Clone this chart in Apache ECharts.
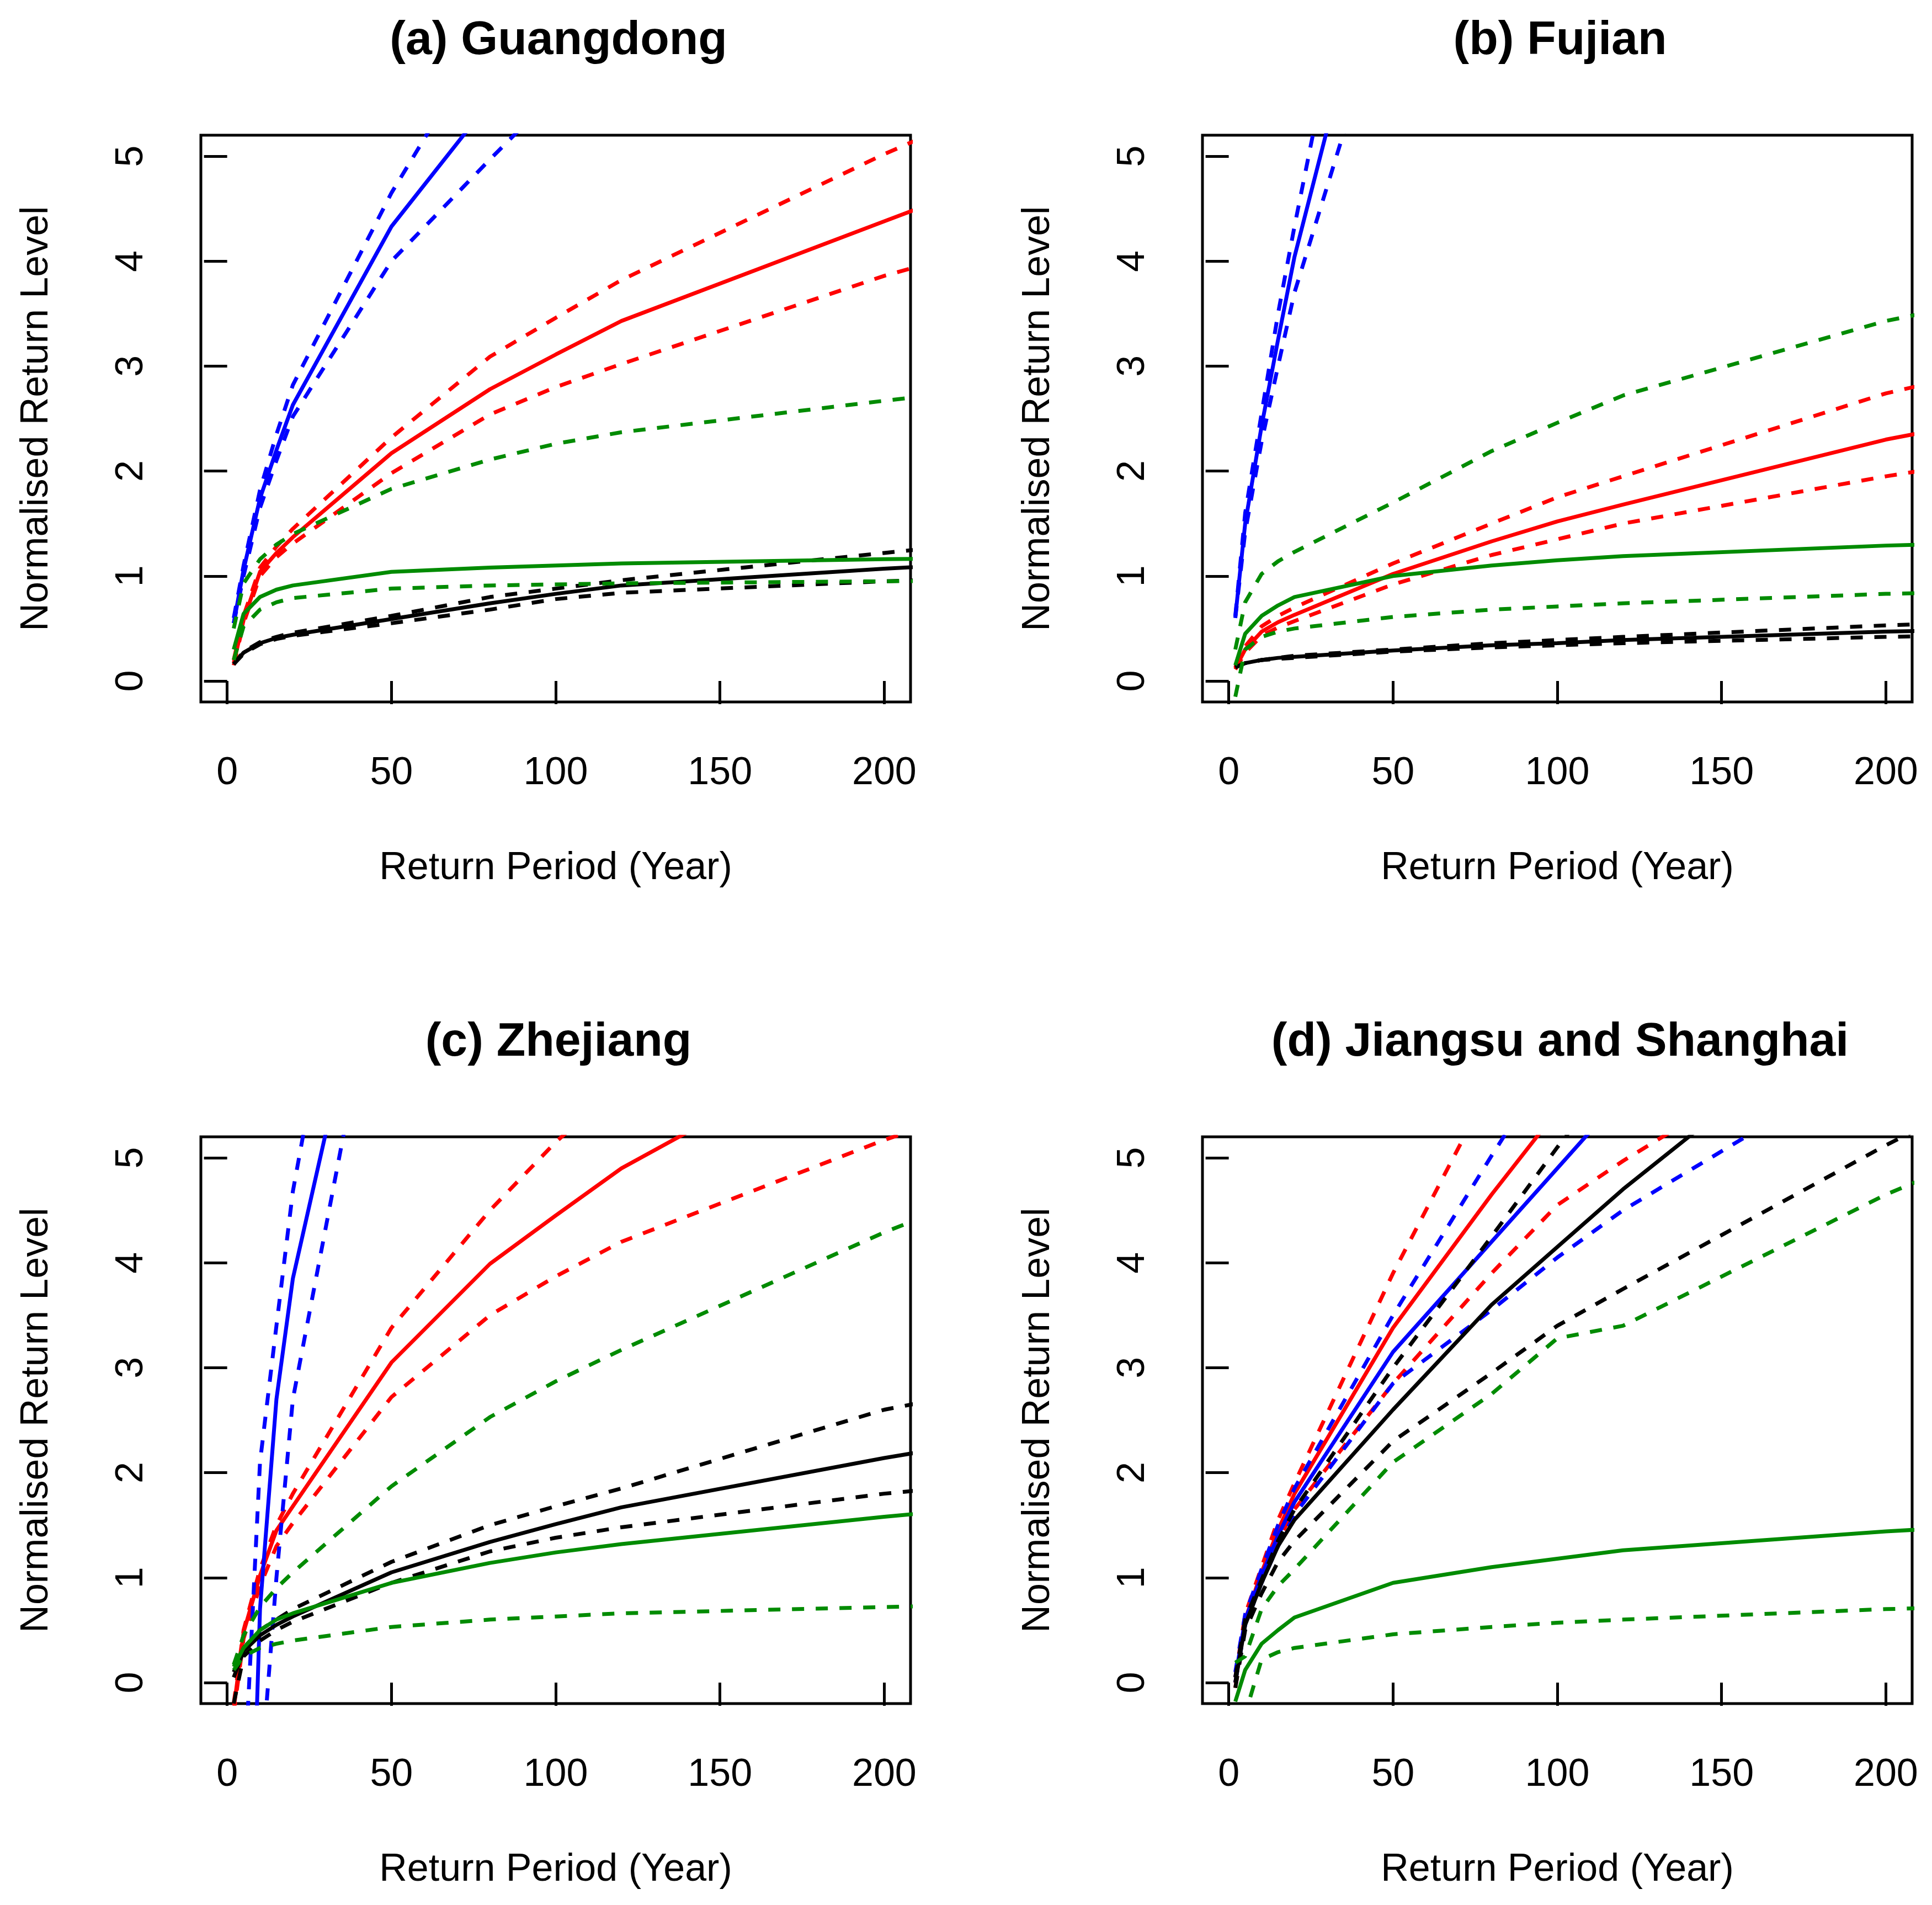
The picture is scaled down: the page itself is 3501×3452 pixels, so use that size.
<!DOCTYPE html>
<html>
<head>
<meta charset="utf-8">
<title>Normalised return level</title>
<script src="https://cdn.jsdelivr.net/npm/echarts@6/dist/echarts.min.js"></script>
<style>
  html, body { margin: 0; padding: 0; background: #ffffff; }
  #chart { width: 3501px; height: 3452px; }
</style>
</head>
<body>
<div id="chart"></div>
<script>
// return periods (years) shared by every curve; 250 lies past the clipped edge
var returnPeriods = [2, 5, 10, 15, 20, 50, 80, 100, 120, 200, 250];
var xTicks = [0, 50, 100, 150, 200];
var yTicks = [0, 1, 2, 3, 4, 5];
var panelTitles = ['(a) Guangdong', '(b) Fujian', '(c) Zhejiang', '(d) Jiangsu and Shanghai'];

// (a) Guangdong
var gdBlue    = [0.55, 1.06, 1.74, 2.2, 2.63, 4.33, 5.52, 6.2, 6.8, 9.0, 10.2];
var gdBlueHi  = [0.6, 1.1, 1.82, 2.35, 2.82, 4.65, 6.2, 7.0, 7.8, 10.5, 12];
var gdBlueLo  = [0.55, 1.0, 1.65, 2.1, 2.52, 4.0, 4.97, 5.6, 6.2, 8.2, 9.4];
var gdRed     = [0.17, 0.58, 1.04, 1.22, 1.37, 2.17, 2.78, 3.11, 3.43, 4.38, 4.97];
var gdRedHi   = [0.2, 0.62, 1.08, 1.28, 1.45, 2.32, 3.09, 3.46, 3.82, 5.02, 5.7];
var gdRedLo   = [0.15, 0.55, 1.0, 1.18, 1.31, 1.98, 2.54, 2.8, 3.02, 3.86, 4.3];
var gdGreen   = [0.3, 0.64, 0.8, 0.87, 0.91, 1.04, 1.08, 1.1, 1.12, 1.16, 1.18];
var gdGreenHi = [0.5, 0.93, 1.16, 1.3, 1.4, 1.83, 2.11, 2.26, 2.37, 2.67, 2.85];
var gdGreenLo = [0.2, 0.52, 0.68, 0.75, 0.79, 0.88, 0.91, 0.92, 0.93, 0.95, 0.96];
var gdBlack   = [0.16, 0.27, 0.36, 0.41, 0.44, 0.59, 0.74, 0.83, 0.91, 1.07, 1.15];
var gdBlackHi = [0.16, 0.28, 0.37, 0.42, 0.46, 0.62, 0.8, 0.88, 0.96, 1.22, 1.38];
var gdBlackLo = [0.16, 0.26, 0.35, 0.4, 0.43, 0.55, 0.68, 0.78, 0.84, 0.95, 1.0];

// (b) Fujian
var fjBlue    = [0.61, 1.5, 2.43, 3.25, 4.04, 7.7, 11, 13, 15, 22, 26];
var fjBlueHi  = [0.62, 1.6, 2.55, 3.5, 4.33, 9.0, 13, 15, 17, 25, 30];
var fjBlueLo  = [0.6, 1.42, 2.28, 3.0, 3.7, 6.75, 9.5, 11, 12.5, 18, 21];
var fjRed     = [0.12, 0.3, 0.47, 0.56, 0.63, 1.02, 1.33, 1.52, 1.68, 2.3, 2.6];
var fjRedHi   = [0.13, 0.33, 0.52, 0.62, 0.7, 1.12, 1.5, 1.75, 1.95, 2.74, 3.1];
var fjRedLo   = [0.11, 0.27, 0.43, 0.51, 0.57, 0.92, 1.2, 1.35, 1.5, 1.95, 2.2];
var fjGreen   = [0.15, 0.45, 0.62, 0.72, 0.8, 1.0, 1.1, 1.15, 1.19, 1.29, 1.33];
var fjGreenHi = [0.3, 0.75, 1.02, 1.14, 1.23, 1.7, 2.19, 2.46, 2.72, 3.43, 3.75];
var fjGreenLo = [-0.15, 0.3, 0.42, 0.47, 0.5, 0.61, 0.68, 0.71, 0.74, 0.83, 0.86];
var fjBlack   = [0.13, 0.17, 0.2, 0.22, 0.23, 0.29, 0.34, 0.36, 0.39, 0.47, 0.5];
var fjBlackHi = [0.13, 0.17, 0.2, 0.22, 0.24, 0.3, 0.36, 0.39, 0.42, 0.53, 0.58];
var fjBlackLo = [0.13, 0.17, 0.2, 0.21, 0.22, 0.28, 0.32, 0.34, 0.36, 0.42, 0.45];

// (c) Zhejiang
var zjBlue    = [-5.5, -4.3, 0.7, 2.7, 3.85, 8.0, 12, 14, 16, 24, 28];
var zjBlueHi  = [-3, -1.09, 2.1, 3.4, 4.68, 9.8, 14, 17, 19, 28, 33];
var zjBlueLo  = [-4, -2.5, -1.0, 1.0, 2.7, 7.6, 11, 13, 15, 22, 26];
var zjRed     = [-0.25, 0.48, 1.02, 1.45, 1.68, 3.05, 3.99, 4.45, 4.9, 6.27, 7.1];
var zjRedHi   = [-0.2, 0.5, 1.08, 1.5, 1.8, 3.38, 4.5, 5.15, 5.7, 7.5, 8.5];
var zjRedLo   = [-0.3, 0.42, 0.92, 1.3, 1.52, 2.72, 3.5, 3.87, 4.2, 5.17, 5.7];
var zjGreen   = [0.15, 0.33, 0.5, 0.6, 0.66, 0.95, 1.14, 1.24, 1.32, 1.58, 1.72];
var zjGreenHi = [0.17, 0.45, 0.72, 0.9, 1.05, 1.87, 2.53, 2.87, 3.17, 4.29, 4.9];
var zjGreenLo = [0.12, 0.25, 0.33, 0.37, 0.4, 0.53, 0.6, 0.63, 0.66, 0.72, 0.75];
var zjBlack   = [0.05, 0.3, 0.45, 0.55, 0.63, 1.05, 1.34, 1.51, 1.67, 2.14, 2.4];
var zjBlackHi = [0.1, 0.33, 0.5, 0.6, 0.7, 1.15, 1.5, 1.68, 1.85, 2.6, 2.9];
var zjBlackLo = [-0.2, 0.25, 0.4, 0.5, 0.58, 0.95, 1.25, 1.38, 1.48, 1.8, 1.95];

// (d) Jiangsu and Shanghai
var jsBlue    = [0.05, 0.6, 1.02, 1.4, 1.72, 3.15, 4.2, 4.9, 5.6, 8.0, 9.3];
var jsBlueHi  = [0.1, 0.65, 1.08, 1.5, 1.85, 3.5, 5.02, 6.0, 7.0, 10, 11.5];
var jsBlueLo  = [0.0, 0.55, 0.95, 1.3, 1.6, 2.85, 3.55, 4.05, 4.5, 6.0, 6.9];
var jsRed     = [0.0, 0.6, 1.05, 1.45, 1.8, 3.38, 4.65, 5.45, 6.2, 8.5, 9.8];
var jsRedHi   = [0.05, 0.65, 1.1, 1.55, 1.9, 3.9, 5.7, 6.8, 7.8, 11, 13];
var jsRedLo   = [-0.05, 0.55, 1.0, 1.35, 1.65, 2.85, 3.9, 4.55, 4.97, 6.5, 7.4];
var jsGreen   = [-0.18, 0.12, 0.37, 0.5, 0.62, 0.95, 1.1, 1.18, 1.26, 1.44, 1.53];
var jsGreenHi = [0.19, 0.25, 0.7, 0.92, 1.08, 2.1, 2.75, 3.28, 3.4, 4.65, 5.3];
var jsGreenLo = [-0.8, -0.3, 0.22, 0.29, 0.33, 0.46, 0.53, 0.57, 0.6, 0.7, 0.74];
var jsBlack   = [0.0, 0.55, 0.95, 1.3, 1.55, 2.6, 3.6, 4.15, 4.7, 6.7, 7.9];
var jsBlackHi = [0.05, 0.6, 0.98, 1.35, 1.65, 3.0, 4.25, 5.1, 5.9, 8.5, 10];
var jsBlackLo = [-0.05, 0.5, 0.85, 1.15, 1.35, 2.3, 2.95, 3.4, 3.75, 5.12, 5.9];

var FONT = 'Liberation Sans';
var COLORS = { blue: '#0000ff', red: '#ff0000', green: '#008b00', black: '#000000' };

// drawing order per panel: red, blue, black, green (later ones sit on top)
var panels = [
    { left: 364,  top: 245,  curves: [
        ['red', gdRed, gdRedLo, gdRedHi], ['blue', gdBlue, gdBlueLo, gdBlueHi],
        ['black', gdBlack, gdBlackLo, gdBlackHi], ['green', gdGreen, gdGreenLo, gdGreenHi]] },
    { left: 2179, top: 245,  curves: [
        ['red', fjRed, fjRedLo, fjRedHi], ['blue', fjBlue, fjBlueLo, fjBlueHi],
        ['black', fjBlack, fjBlackLo, fjBlackHi], ['green', fjGreen, fjGreenLo, fjGreenHi]] },
    { left: 364,  top: 2060, curves: [
        ['red', zjRed, zjRedLo, zjRedHi], ['blue', zjBlue, zjBlueLo, zjBlueHi],
        ['black', zjBlack, zjBlackLo, zjBlackHi], ['green', zjGreen, zjGreenLo, zjGreenHi]] },
    { left: 2179, top: 2060, curves: [
        ['red', jsRed, jsRedLo, jsRedHi], ['blue', jsBlue, jsBlueLo, jsBlueHi],
        ['black', jsBlack, jsBlackLo, jsBlackHi], ['green', jsGreen, jsGreenLo, jsGreenHi]] }
];
var PLOT_W = 1286, PLOT_H = 1027;

function toPairs(values) {
    return returnPeriods.map(function (x, i) { return [x, values[i]]; });
}

function lineSeries(idx, color, values, dashed) {
    return {
        type: 'line',
        xAxisIndex: idx,
        yAxisIndex: idx,
        data: toPairs(values),
        showSymbol: false,
        symbol: 'none',
        clip: true,
        silent: true,
        lineStyle: {
            color: COLORS[color],
            width: 7,
            type: dashed ? [22, 21] : 'solid',
            cap: 'butt'
        }
    };
}

var grids = [], xAxes = [], yAxes = [], titles = [], series = [];

panels.forEach(function (p, i) {
    grids.push({
        left: p.left, top: p.top, width: PLOT_W, height: PLOT_H,
        show: true, borderColor: '#000', borderWidth: 5, backgroundColor: 'transparent'
    });
    xAxes.push({
        gridIndex: i, type: 'value', min: -8, max: 208,
        name: 'Return Period (Year)', nameLocation: 'middle', nameGap: 267,
        nameTextStyle: { fontFamily: FONT, fontSize: 70, color: '#000' },
        axisLine: { show: false },
        splitLine: { show: false },
        axisTick: { show: true, inside: false, length: 42, customValues: xTicks,
                    lineStyle: { color: '#000', width: 5 } },
        axisLabel: { customValues: xTicks, margin: 95, fontFamily: FONT, fontSize: 70, color: '#000' }
    });
    yAxes.push({
        gridIndex: i, type: 'value', min: -0.2, max: 5.2,
        name: 'Normalised Return Level', nameLocation: 'middle', nameGap: 262,
        nameTextStyle: { fontFamily: FONT, fontSize: 70, color: '#000' },
        axisLine: { show: false },
        splitLine: { show: false },
        axisTick: { show: true, inside: false, length: 42, customValues: yTicks,
                    lineStyle: { color: '#000', width: 5 } },
        axisLabel: { customValues: yTicks, rotate: 90, margin: 90, fontFamily: FONT, fontSize: 70, color: '#000' }
    });
    titles.push({
        text: panelTitles[i],
        left: p.left + PLOT_W / 2,
        top: p.top - 219,
        textAlign: 'center',
        textStyle: { fontFamily: FONT, fontSize: 86, fontWeight: 'bold', color: '#000' }
    });
    p.curves.forEach(function (c) {
        series.push(lineSeries(i, c[0], c[1], false));
        series.push(lineSeries(i, c[0], c[2], true));
        series.push(lineSeries(i, c[0], c[3], true));
    });
});

var chart = echarts.init(document.getElementById('chart'), null, { renderer: 'canvas' });
chart.setOption({
    animation: false,
    backgroundColor: '#ffffff',
    title: titles,
    grid: grids,
    xAxis: xAxes,
    yAxis: yAxes,
    series: series
});
</script>
</body>
</html>
